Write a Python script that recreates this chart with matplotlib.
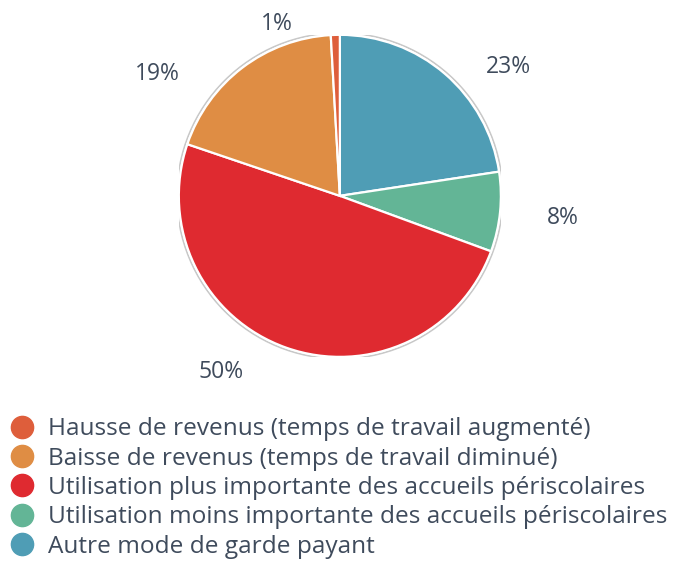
import numpy as np
import matplotlib.pyplot as plt
from matplotlib.lines import Line2D

# slices, clockwise from the top (legend order reversed)
labels = [
    "Hausse de revenus (temps de travail augmenté)",
    "Baisse de revenus (temps de travail diminué)",
    "Utilisation plus importante des accueils périscolaires",
    "Utilisation moins importante des accueils périscolaires",
    "Autre mode de garde payant",
]
values = [0.9, 18.9, 49.6, 8.0, 22.6]
pct_text = ["1%", "19%", "50%", "8%", "23%"]
colors = ["#DE5E3B", "#DF8D44", "#DF2A30", "#63B596", "#4F9DB5"]

plt.rcParams['font.family'] = ['Open Sans', 'DejaVu Sans']
text_col = "#3f4b5c"

fig = plt.figure(figsize=(6.77, 5.62), dpi=100)
ax = fig.add_axes([0.264, 0.365, 0.476, 0.573])

# draw blue first going clockwise from 12 o'clock, legend keeps original order
order = [4, 3, 2, 1, 0]
wedges, _ = ax.pie([values[i] for i in order], colors=[colors[i] for i in order],
                   startangle=90, counterclock=False, radius=1.0,
                   wedgeprops=dict(edgecolor="white", linewidth=1.6))
ax.add_patch(plt.Circle((0, 0), 1.012, fill=False, edgecolor="#c8c8c8", linewidth=1.2, zorder=0))

# outside percentage labels (nudged like the original)
total = sum(values)
ang = 90.0
dist = {4: 1.32, 3: 1.39, 2: 1.32, 1: 1.36, 0: 1.14}
shift = {4: -12, 3: 0, 2: -14.5, 1: 19, 0: 18.6}
for i in order:
    span = values[i] / total * 360
    mid = np.deg2rad(ang - span / 2 + shift[i])
    ax.text(dist[i] * np.cos(mid), dist[i] * np.sin(mid), pct_text[i],
            ha="center", va="center", fontsize=16.5, color=text_col)
    ang -= span

ax.set_xlim(-1, 1)
ax.set_ylim(-1, 1)
ax.set_aspect("equal")
ax.axis("off")

handles = [Line2D([], [], marker="o", linestyle="none", markersize=16,
                  markerfacecolor=c, markeredgecolor=c) for c in colors]
fig.legend(handles, labels, loc="upper left", bbox_to_anchor=(0.0, 0.275),
           frameon=False, fontsize=17.6, labelcolor=text_col,
           handletextpad=0.55, labelspacing=0.22, borderaxespad=0, handlelength=1.0)

fig.savefig("out.png", dpi=100)
